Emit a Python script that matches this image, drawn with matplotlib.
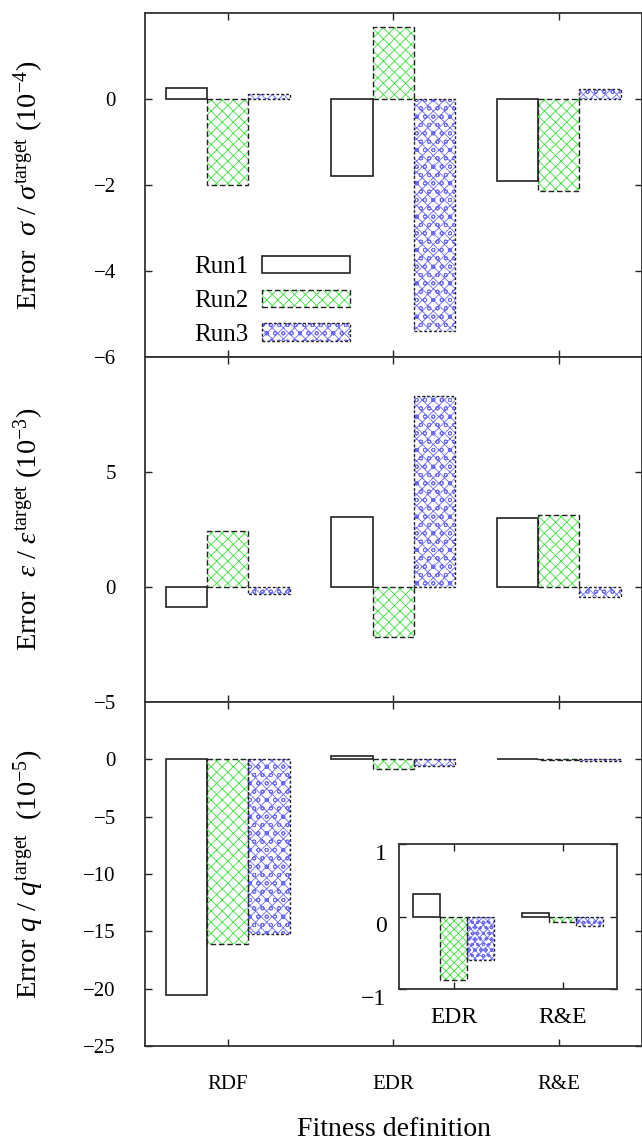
import matplotlib
matplotlib.use("Agg")
import matplotlib.pyplot as plt
import numpy as np

# datos
fitness = ['RDF', 'EDR', 'R&E']
runs = ['Run1', 'Run2', 'Run3']

sigma_run1 = [0.26, -1.79, -1.90]
sigma_run2 = [-2.00, 1.67, -2.13]
sigma_run3 = [0.12, -5.40, 0.23]

eps_run1 = [-0.86, 3.06, 3.00]
eps_run2 = [2.45, -2.19, 3.14]
eps_run3 = [-0.30, 8.29, -0.45]

q_run1 = [-20.56, 0.31, 0.05]
q_run2 = [-16.10, -0.88, -0.08]
q_run3 = [-15.24, -0.60, -0.13]

plt.rcParams['font.family'] = ['Liberation Serif', 'DejaVu Serif']
plt.rcParams['mathtext.fontset'] = 'custom'
plt.rcParams['mathtext.rm'] = 'Liberation Serif'
plt.rcParams['mathtext.it'] = 'Liberation Serif:italic'
plt.rcParams['hatch.linewidth'] = 0.6

VERDE = '#38e038'
AZUL = '#6a6aff'
ANCHO = 0.25


def barras(ax, x, vals, estilo, hatch_verde='xxx', hatch_azul='xxxoo'):
    if estilo == 0:
        h = ax.bar(x, vals, ANCHO, fill=False, edgecolor='#222222', linewidth=1.2)
        return h.patches[0]
    if estilo == 1:
        h1 = ax.bar(x, vals, ANCHO, color='none', edgecolor=VERDE, hatch=hatch_verde, linewidth=0)
        h2 = ax.bar(x, vals, ANCHO, fill=False, edgecolor='#222222', linestyle=(0, (4, 2)), linewidth=1.0)
    else:
        h1 = ax.bar(x, vals, ANCHO, color='none', edgecolor=AZUL, hatch=hatch_azul, linewidth=0)
        h2 = ax.bar(x, vals, ANCHO, fill=False, edgecolor='#222222', linestyle=(0, (2, 1.5)), linewidth=1.0)
    return (h1.patches[0], h2.patches[0])


def estilo_ejes(ax, pad=21.0, size=15):
    ax.tick_params(direction='in', top=True, right=True, length=5, width=1,
                   labelsize=size, pad=pad, colors='#222222', labelcolor='black')
    for s in ax.spines.values():
        s.set_linewidth(1.3)
        s.set_color('#333333')


fig = plt.figure(figsize=(6.42, 11.42), dpi=100)
W, H = 642.0, 1142.0
izq = 145 / W
der = 641.5 / W
bordes = [13, 357, 702, 1046]

axes = []
for i in range(3):
    y0 = 1 - bordes[i + 1] / H
    alto = (bordes[i + 1] - bordes[i]) / H
    axes.append(fig.add_axes([izq, y0, der - izq, alto]))

x = np.arange(1, len(fitness) + 1)
datos = [
    (sigma_run1, sigma_run2, sigma_run3),
    (eps_run1, eps_run2, eps_run3),
    (q_run1, q_run2, q_run3),
]
limites = [(-6, 2), (-5, 10), (-25, 5)]
yticks = [[-6, -4, -2, 0], [-5, 0, 5], [-25, -20, -15, -10, -5, 0]]
etiquetas = [
    r'Error  $\sigma$ / $\sigma^{\rm target}$ (10$^{-4}$)',
    r'Error  $\varepsilon$ / $\varepsilon^{\rm target}$ (10$^{-3}$)',
    r'Error $q$ / $q^{\rm target}$  (10$^{-5}$)',
]

handles = []
for i, ax in enumerate(axes):
    hs = []
    for j, vals in enumerate(datos[i]):
        hs.append(barras(ax, x + (j - 1) * ANCHO, vals, j))
    if i == 0:
        handles = hs
    ax.set_xlim(0.5, 3.5)
    ax.set_ylim(*limites[i])
    ax.set_yticks(yticks[i])
    ax.set_yticklabels([str(t).replace('-', '\u2212') for t in yticks[i]])
    ax.set_xticks(x)
    if i < 2:
        ax.set_xticklabels([])
    else:
        ax.set_xticklabels(fitness)
    estilo_ejes(ax)
    yc = 1 - (bordes[i] + bordes[i + 1]) / 2 / H
    fig.text(29 / W, yc, etiquetas[i], rotation=90, ha='center', va='center', fontsize=20.5)

fig.text(394 / W, 1 - 1129 / H, 'Fitness definition', ha='center', va='center', fontsize=20)

leg = axes[0].legend(handles, runs, loc='center', bbox_to_anchor=(0.256, 0.163),
                     frameon=False, markerfirst=False, fontsize=18, handlelength=3.5,
                     handleheight=0.7, handletextpad=0.55, labelspacing=0.45)

# recuadro con EDR y R&E
ins = fig.add_axes([399 / W, 1 - 989 / H, (617 - 399) / W, (989 - 844) / H])
xi = np.arange(2, 4)
barras(ins, xi - ANCHO, q_run1[1:], 0)
barras(ins, xi, q_run2[1:], 1, hatch_verde='xxxx')
barras(ins, xi + ANCHO, q_run3[1:], 2, hatch_azul='xxxxooo')
ins.set_xlim(1.5, 3.5)
ins.set_ylim(-1, 1)
ins.set_yticks([-1, 0, 1])
ins.set_yticklabels(['\u22121', '0', '1'], va='top')
ins.set_xticks(xi)
ins.set_xticklabels(fitness[1:])
estilo_ejes(ins, pad=9, size=17)
ins.tick_params(axis='x', pad=13)

fig.savefig('out.png', dpi=100)
